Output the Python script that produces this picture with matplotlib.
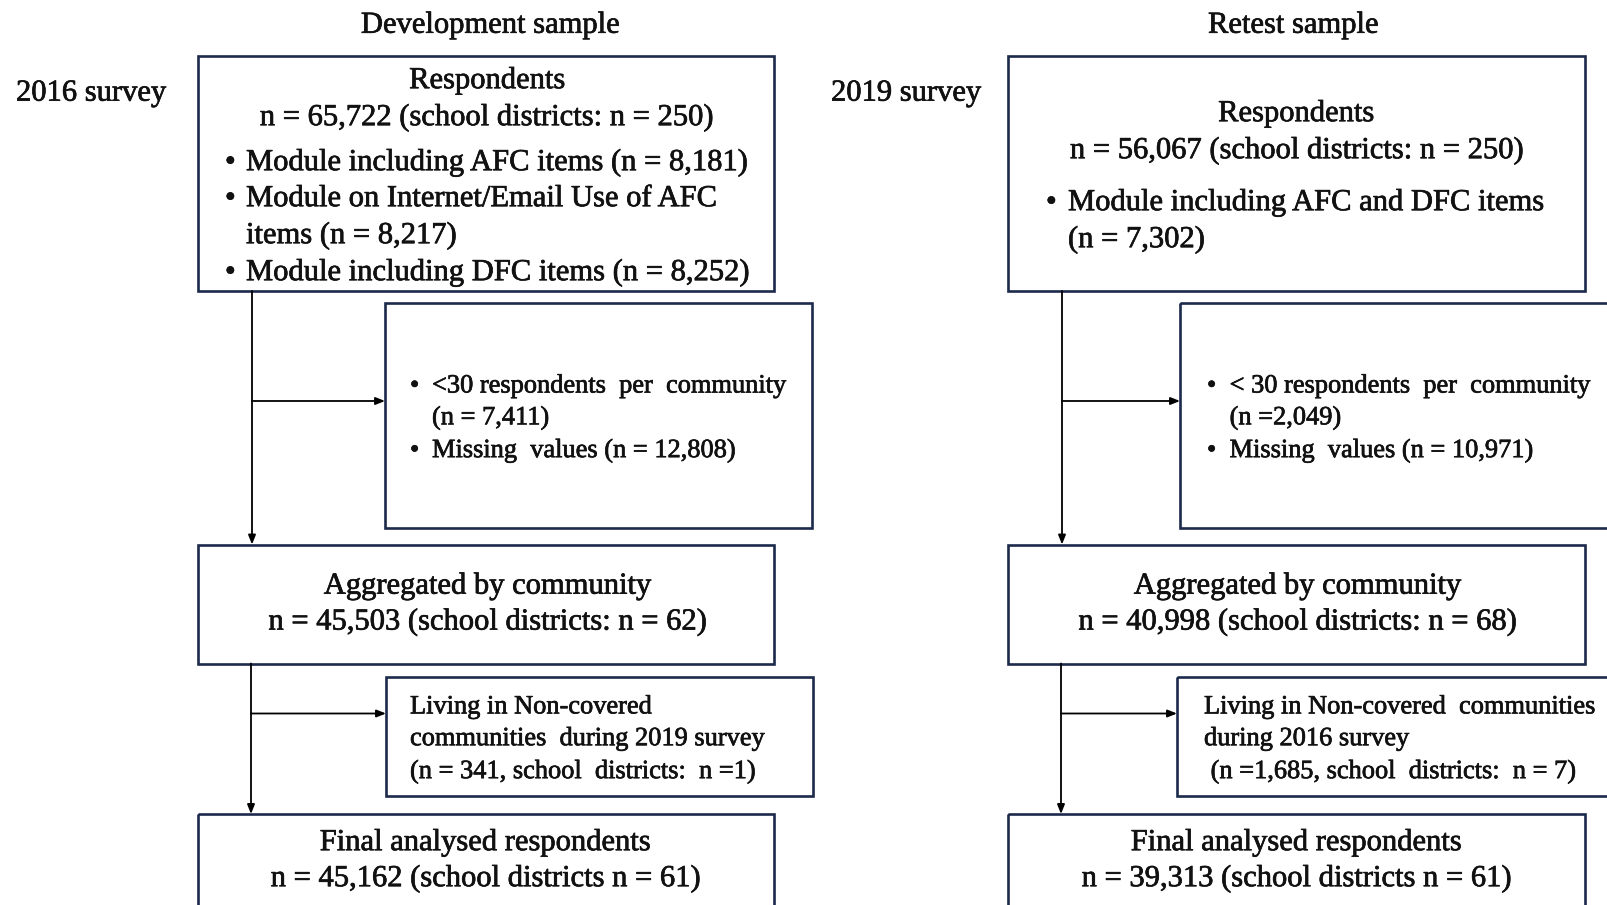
import matplotlib.pyplot as plt
from matplotlib.patches import Rectangle
import matplotlib.patheffects as pe

plt.rcParams['font.family'] = ['Liberation Serif', 'DejaVu Serif']

# ---------------- text content ----------------
sample_titles = ["Development sample", "Retest sample"]
survey_labels = ["2016 survey", "2019 survey"]

resp_head = ["Respondents", "Respondents"]
resp_n = ["n = 65,722 (school districts: n = 250)",
          "n = 56,067 (school districts: n = 250)"]
# each bullet -> list of lines
resp_bullets_left = [["Module including AFC items (n = 8,181)"],
                     ["Module on Internet/Email Use of AFC", "items (n = 8,217)"],
                     ["Module including DFC items (n = 8,252)"]]
resp_bullets_right = [["Module including AFC and DFC items", "(n = 7,302)"]]

excl1_left = [["<30 respondents  per  community", "(n = 7,411)"],
              ["Missing  values (n = 12,808)"]]
excl1_right = [["< 30 respondents  per  community", "(n =2,049)"],
               ["Missing  values (n = 10,971)"]]

agg_head = "Aggregated by community"
agg_n = ["n = 45,503 (school districts: n = 62)",
         "n = 40,998 (school districts: n = 68)"]

excl2_left = ["Living in Non-covered", "communities  during 2019 survey",
              "(n = 341, school  districts:  n =1)"]
excl2_right = ["Living in Non-covered  communities", "during 2016 survey",
               " (n =1,685, school  districts:  n = 7)"]

final_head = "Final analysed respondents"
final_n = ["n = 45,162 (school districts n = 61)",
           "n = 39,313 (school districts n = 61)"]

# ---------------- layout (pixels) ----------------
W, H = 1608, 905
EDGE = '#1c2b4b'
BIG = 22
SMALL = 19
PX = 100 / 72.0
INK = [pe.withStroke(linewidth=0.5, foreground='#111111')]


def base(y, size):
    # convert visual line centre to baseline
    return y + 0.30 * size * PX


fig = plt.figure(figsize=(W / 100, H / 100), dpi=100)
ax = fig.add_axes([0, 0, 1, 1])
ax.set_xlim(0, W)
ax.set_ylim(H, 0)
ax.axis('off')


def box(x0, y0, x1, y1):
    ax.add_patch(Rectangle((x0, y0), x1 - x0, y1 - y0, fill=False,
                           edgecolor=EDGE, lw=1.9, clip_on=False))


def txt(x, y, s, size=BIG, ha='left'):
    ax.text(x, base(y, size), s, fontsize=size, ha=ha, va='baseline',
            color='#111111', path_effects=INK)


def arrow(x0, y0, x1, y1):
    ax.annotate('', xy=(x1, y1), xytext=(x0, y0),
                arrowprops=dict(arrowstyle='-|>,head_length=0.55,head_width=0.22',
                                lw=1.3, color='black', shrinkA=0, shrinkB=0))


def bullets(items, xb, xt, ys, size):
    k = 0
    for item in items:
        for j, line in enumerate(item):
            if j == 0:
                txt(xb, ys[k], "\u2022", size)
            txt(xt, ys[k], line, size)
            k += 1


# headers
txt(490, 23.6, sample_titles[0], ha='center')
txt(1293, 23.6, sample_titles[1], ha='center')
txt(16, 91.5, survey_labels[0])
txt(831, 91.5, survey_labels[1])

# columns: box edges, exclusion box edges and trunk x
cols = [dict(l=198, r=774, el=385, er=812, el2=386, er2=813, tx=252),
        dict(l=1008, r=1585, el=1180, er=1625, el2=1177, er2=1625, tx=1062)]

for cc in cols:
    box(cc['l'], 56, cc['r'], 291)
    box(cc['el'], 302.5, cc['er'], 528)
    box(cc['l'], 544.5, cc['r'], 663.5)
    box(cc['el2'], 677, cc['er2'], 796)
    box(cc['l'], 814, cc['r'], 920)

    arrow(cc['tx'], 291, cc['tx'], 544.5)
    arrow(cc['tx'], 401, cc['el'], 401)
    arrow(cc['tx'] - 1, 663.5, cc['tx'] - 1, 814)
    arrow(cc['tx'] - 1, 713.5, cc['el2'], 713.5)

# top respondents boxes
txt(487, 79, resp_head[0], ha='center')
txt(486, 116, resp_n[0], ha='center')
bullets(resp_bullets_left, 225, 246, [161, 197, 234, 271], BIG)

txt(1296, 112, resp_head[1], ha='center')
txt(1296, 149, resp_n[1], ha='center')
bullets(resp_bullets_right, 1046, 1068, [201, 238], BIG)

# exclusion boxes 1
bullets(excl1_left, 410, 432, [384.6, 416.4, 449.2], SMALL)
bullets(excl1_right, 1207, 1229.6, [384.6, 416.4, 449.2], SMALL)

# aggregated
for cx, s in zip([487, 1297], agg_n):
    txt(cx, 584.5, agg_head, ha='center')
    txt(cx, 620.4, s, ha='center')

# exclusion boxes 2
for x0, lines in zip([410, 1204], [excl2_left, excl2_right]):
    for y, s in zip([705.5, 737.3, 770.2], lines):
        txt(x0, y, s, SMALL)

# final
for cx, s in zip([485, 1296], final_n):
    txt(cx, 841, final_head, ha='center')
    txt(cx, 877, s, ha='center')

fig.savefig('out.png', dpi=100)
